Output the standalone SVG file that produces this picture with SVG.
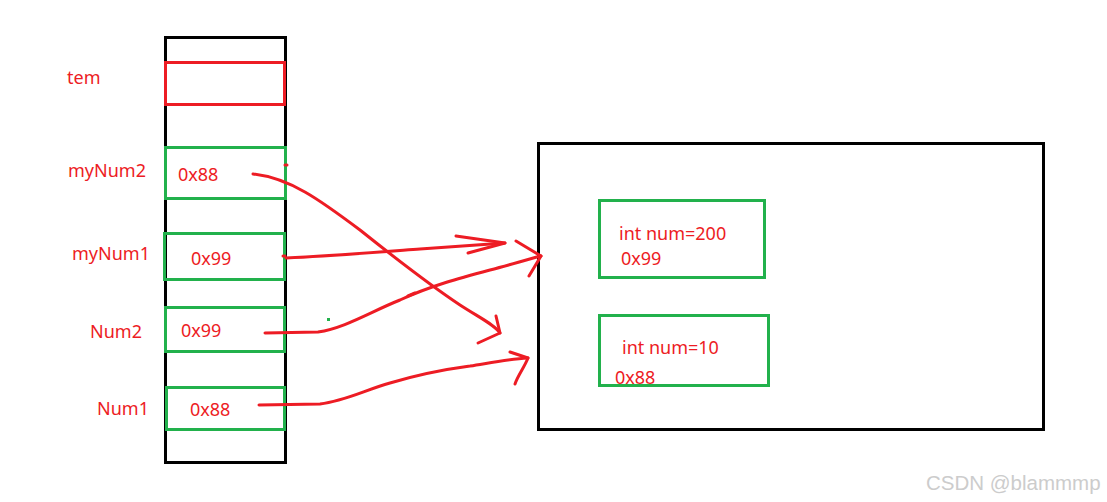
<svg xmlns="http://www.w3.org/2000/svg" width="1107" height="502" viewBox="0 0 1107 502">
<style>
.blk{fill:none;stroke:#000;stroke-width:3}
.grn{fill:none;stroke:#22b14c;stroke-width:3}
.redb{fill:none;stroke:#ed1c24;stroke-width:3}
.t{font-family:"Noto Sans","Liberation Sans",Arial,sans-serif;font-size:18px;fill:#ed1c24}
.ln{fill:none;stroke:#ed1c24;stroke-width:3;stroke-linecap:round;stroke-linejoin:round}
.wm{font-family:"Liberation Sans",Arial,sans-serif;font-size:20.5px;fill:#cccccc}
</style>
<rect width="1107" height="502" fill="#fff"/>
<g id="stack">
<rect class="blk" x="165.5" y="37.5" width="120" height="425"/>
</g>
<g id="tem">
<rect class="redb" x="165.5" y="62.5" width="119" height="42"/>
<text class="t" x="67" y="84">tem</text>
</g>
<g id="myNum2">
<rect class="grn" x="165.5" y="147.5" width="120" height="51"/>
<text class="t" x="68" y="177">myNum2</text>
<text class="t" x="178" y="181">0x88</text>
</g>
<g id="myNum1">
<rect class="grn" x="164.5" y="233.5" width="120" height="46"/>
<text class="t" x="72" y="260">myNum1</text>
<text class="t" x="191" y="265">0x99</text>
</g>
<g id="Num2">
<rect class="grn" x="165.5" y="307.5" width="119" height="44"/>
<text class="t" x="90" y="338">Num2</text>
<text class="t" x="181" y="337">0x99</text>
</g>
<g id="Num1">
<rect class="grn" x="166.5" y="387.5" width="118" height="42"/>
<text class="t" x="97" y="415">Num1</text>
<text class="t" x="190" y="416">0x88</text>
</g>
<g id="heap">
<rect class="blk" x="538.5" y="143.5" width="505" height="286"/>
</g>
<g id="obj200">
<rect class="grn" x="599.5" y="200.5" width="165" height="77"/>
<text class="t" x="619" y="240">int num=200</text>
<text class="t" x="621" y="265">0x99</text>
</g>
<g id="obj10">
<rect class="grn" x="599.5" y="315.5" width="169" height="70"/>
<text class="t" x="622" y="354">int num=10</text>
<text class="t" x="615" y="384">0x88</text>
</g>
<g id="connectors">
<path class="ln" d="M253,174 C290,178 320,200 360,230 C400,262 430,285 460,305 C480,318 495,325 500,333"/>
<path class="ln" d="M496,316 L500,333 L478,343"/>
<path class="ln" d="M286,258 C330,256 380,252 420,249 C450,247 480,245 505,243"/>
<path class="ln" d="M456,236 L505,243 L468,253"/>
<path class="ln" d="M265,333 L318,332 C345,328 370,312 400,300 C430,286 460,278 490,270 C510,265 525,260 541,256"/>
<path class="ln" d="M516,241 L541,256 L529,276"/>
<path class="ln" d="M408,296 L415,293"/>
<path class="ln" d="M259,405 L320,404 C345,401 365,390 390,383 C420,374 440,370 470,366 C495,362 510,359 528,358"/>
<path class="ln" d="M510,352 L528,358 C524,368 518,375 515,384"/>
<path class="ln" d="M285,165 L287,165"/>
<path class="ln" d="M283,256 L285,256"/>
<rect x="327" y="318" width="3" height="3" fill="#22b14c"/>
</g>
<text class="wm" x="926" y="490">CSDN @blammmp</text>
</svg>
